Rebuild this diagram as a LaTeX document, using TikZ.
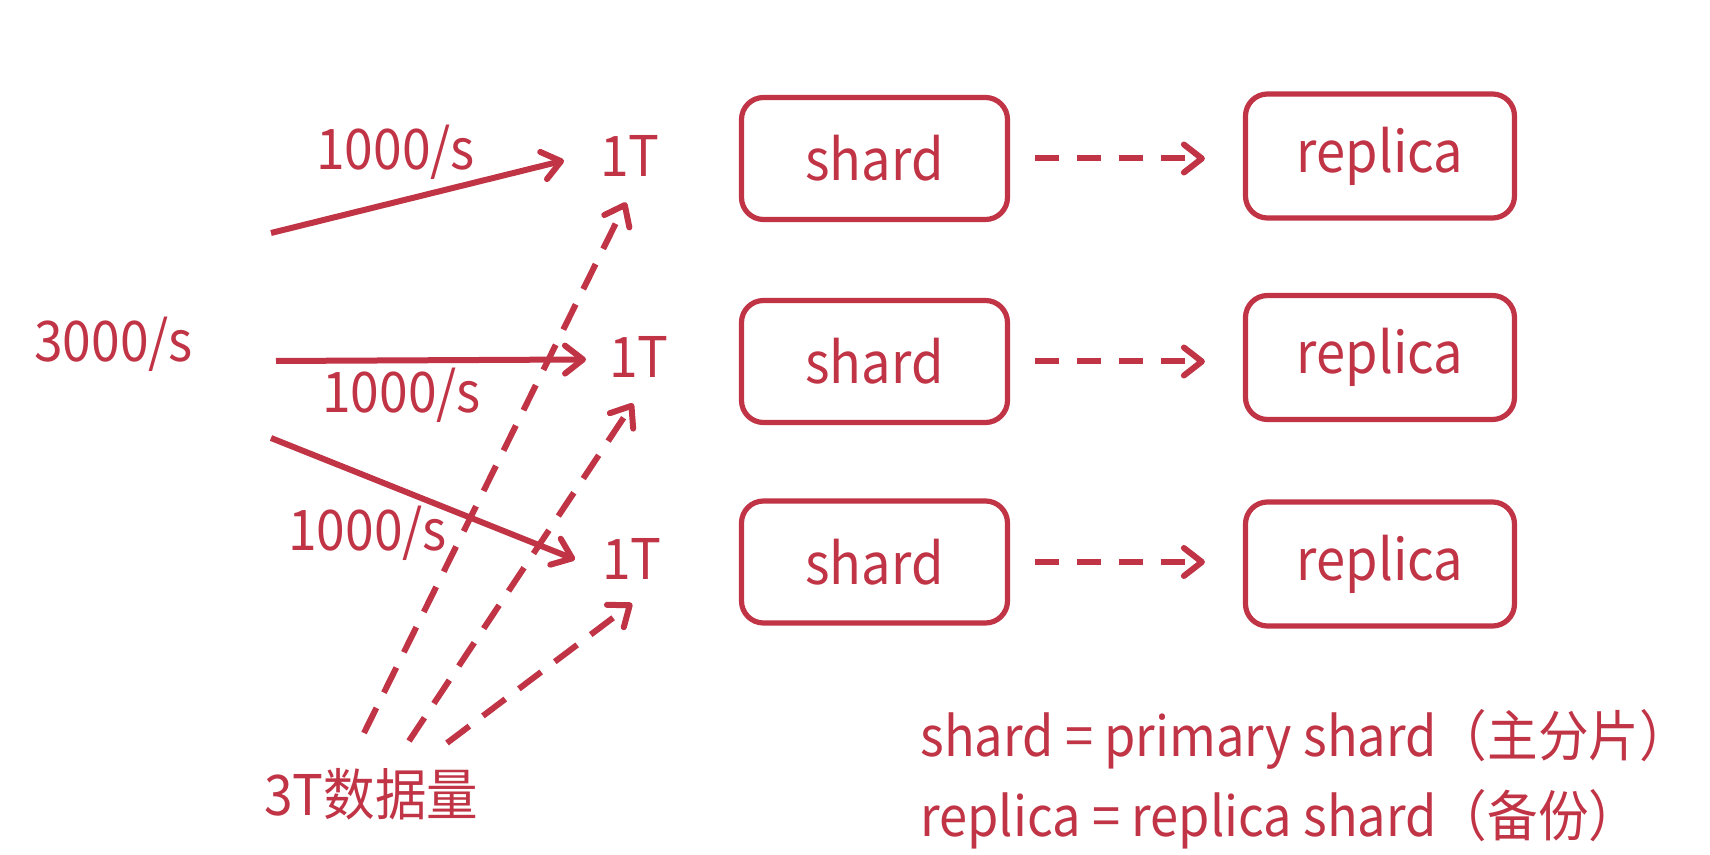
\documentclass[tikz,border=0pt]{standalone}
\usepackage{fontspec}
\newfontfamily\cjk[FakeStretch=0.92]{Noto Sans CJK SC}
\usetikzlibrary{arrows.meta}
\definecolor{esred}{RGB}{192,52,70}
\begin{document}
\begin{tikzpicture}[x=0.5pt,y=-0.5pt,
  lbl/.style={font=\cjk\fontsize{28}{34}\selectfont, text=esred, inner sep=0pt, anchor=base west},
  box/.style={draw=esred, line width=2.6pt, rounded corners=11pt, minimum width=133pt, minimum height=61pt, inner sep=0pt, font=\cjk\fontsize{28.5}{34}\selectfont, text=esred},
  solidarrow/.style={draw=esred, line width=3pt, -{Straight Barb[length=9pt,width=14pt,round]}},
  dasharrow/.style={solidarrow, dash pattern=on 14pt off 8.5pt},
  reparrow/.style={solidarrow, dash pattern=on 12pt off 9pt, shorten <=12.5pt, shorten >=19pt}
]
\useasboundingbox[fill=white] (0,0) rectangle (1710,855);
% boxes
\node[box] (s1) at (874.5,158.5) {shard};
\node[box] (s2) at (874.5,361.5) {shard};
\node[box] (s3) at (874.5,562) {shard};
\node[box, minimum width=134.5pt, minimum height=62pt] (r1) at (1380,156) {replica};
\node[box, minimum width=134.5pt, minimum height=62pt] (r2) at (1380,357.5) {replica};
\node[box, minimum width=134.5pt, minimum height=62pt] (r3) at (1380,564) {replica};
% labels
\node[lbl] (q1) at (316,170) {1000/s};
\node[lbl] (src) at (34,362) {3000/s};
\node[lbl] (q2) at (322,413) {1000/s};
\node[lbl] (q3) at (288,551) {1000/s};
\node[lbl] (t1) at (600,177) {1T};
\node[lbl] (t2) at (609,378) {1T};
\node[lbl] (t3) at (602,580) {1T};
\node[lbl] (data) at (264,815) {3T数据量};
\node[lbl, font=\cjk\fontsize{27.5}{32}\selectfont] (leg1) at (920,756) {shard = primary shard（主分片）};
\node[lbl, font=\cjk\fontsize{27.5}{32}\selectfont] (leg2) at (920,836) {replica = replica shard（备份）};
% request arrows
\coordinate (a1s) at (271,233);
\coordinate (a2s) at (276,361);
\coordinate (a3s) at (271,438);
\draw[solidarrow] (a1s) -- ([xshift=-18pt,yshift=-2pt]t1.west);
\draw[solidarrow] (a2s) -- ([xshift=-11.5pt,yshift=-1pt]t2.west);
\draw[solidarrow] (a3s) -- ([xshift=-13.5pt]t3.west);
% data arrows
\coordinate (d1s) at (364,733);
\coordinate (d2s) at (409,741);
\coordinate (d3s) at (447,743);
\draw[dasharrow] (d1s) -- ([xshift=-2pt,yshift=-12.5pt]t1.south);
\draw[dasharrow] (d2s) -- ([xshift=-3pt,yshift=-12.5pt]t2.south);
\draw[dasharrow] (d3s) -- ([yshift=-11.5pt]t3.south);
% replication arrows
\draw[reparrow] (s1.east) -- (s1.east -| r1.west);
\draw[reparrow] (s2.east) -- (s2.east -| r2.west);
\draw[reparrow] (s3.east) -- (s3.east -| r3.west);
\end{tikzpicture}
\end{document}
